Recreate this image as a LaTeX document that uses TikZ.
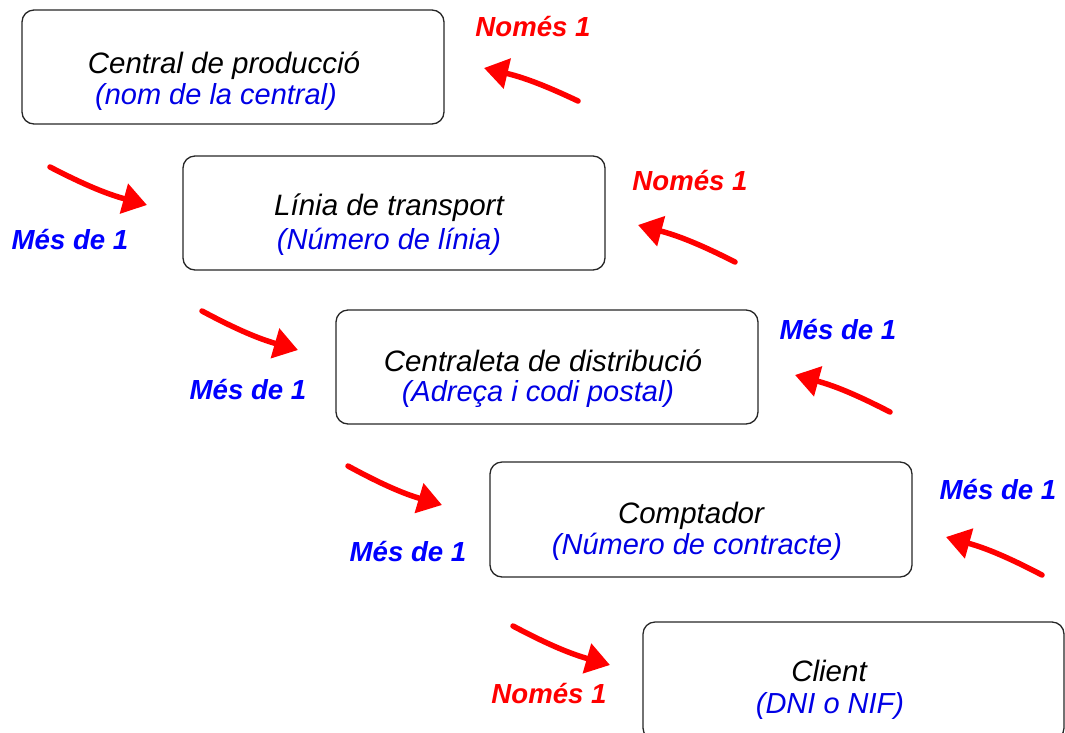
\documentclass[tikz,border=0pt]{standalone}
\usepackage{fontspec}
\setmainfont{Liberation Sans}
\usetikzlibrary{arrows.meta}
\begin{document}
\begin{tikzpicture}[x=1pt,y=-1pt,
  entity/.style={draw=black!85, line width=1.3pt, rounded corners=12pt, rectangle, inner sep=0pt},
  ttl/.style={font=\fontsize{29.5}{32}\selectfont\itshape, text=black, inner sep=0pt},
  sub/.style={font=\fontsize{29}{32}\selectfont\itshape, text=blue!90!black, inner sep=0pt},
  lblr/.style={font=\fontsize{27.6}{30}\selectfont\bfseries\itshape, text=red, inner sep=0pt},
  lblb/.style={font=\fontsize{27.6}{30}\selectfont\bfseries\itshape, text=blue, inner sep=0pt},
  redarrow/.style={draw=red, line width=5.5pt, line cap=round, -{Triangle[length=24pt,width=30pt]}}
]
\useasboundingbox (0,0) rectangle (1065,732);
\clip (0,0) rectangle (1065,732);
% boxes
\node[entity, minimum width=422pt, minimum height=114pt] (b1) at (233,67) {};
\node[entity, minimum width=422pt, minimum height=114pt] (b2) at (394,213) {};
\node[entity, minimum width=422pt, minimum height=114pt] (b3) at (547,367) {};
\node[entity, minimum width=422pt, minimum height=115pt] (b4) at (701,519.5) {};
\node[entity, minimum width=421pt, minimum height=118pt] (b5) at (853.5,681) {};
% texts
\node[ttl] (t1) at (224,66) {Central de producció};
\node[sub] (s1) at (216,97) {(nom de la central)};
\node[ttl] (t2) at (389,208) {Línia de transport};
\node[sub] (s2) at (389,242) {(Número de línia)};
\node[ttl] (t3) at (543,361) {Centraleta de distribució};
\node[sub] (s3) at (538,394) {(Adreça i codi postal)};
\node[ttl] (t4) at (691,516) {Comptador};
\node[sub] (s4) at (697,547) {(Número de contracte)};
\node[ttl] (t5) at (829,671) {Client};
\node[sub] (s5) at (830,706) {(DNI o NIF)};
% labels
\node[lblr] (l1) at (533,27) {Només 1};
\node[lblb] (l2) at (70,240) {Més de 1};
\node[lblr] (l3) at (690,181) {Només 1};
\node[lblb] (l4) at (248,390) {Més de 1};
\node[lblb] (l5) at (838,330) {Més de 1};
\node[lblb] (l6) at (408,552) {Més de 1};
\node[lblb] (l7) at (998,490) {Més de 1};
\node[lblr] (l8) at (549,693) {Només 1};
% arrow endpoints
\coordinate (a1s) at (578,101); \coordinate (a1e) at (484,68);
\coordinate (a2s) at (50,167);  \coordinate (a2e) at (147,205);
\coordinate (a3s) at (735,262); \coordinate (a3e) at (638,225);
\coordinate (a4s) at (202,311); \coordinate (a4e) at (298,350);
\coordinate (a5s) at (890,412); \coordinate (a5e) at (795,375);
\coordinate (a6s) at (348,466); \coordinate (a6e) at (442,505);
\coordinate (a7s) at (1042,575); \coordinate (a7e) at (946,537);
\coordinate (a8s) at (513,626); \coordinate (a8e) at (610,665);
\foreach \i in {1,2,...,8} {\draw[redarrow] (a\i s) to[bend right=6] (a\i e);}
\end{tikzpicture}
\end{document}
